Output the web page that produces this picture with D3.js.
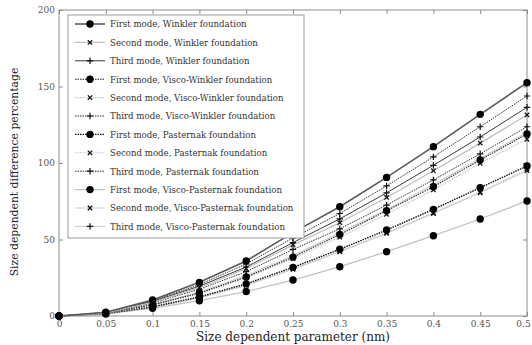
<!DOCTYPE html>
<html>
<head>
<meta charset="utf-8">
<script src="https://cdn.jsdelivr.net/npm/d3@7"></script>
<style>
  body { margin: 0; background: #fff; }
</style>
</head>
<body>
<div id="chart"></div>
<script>
// size dependent parameter (nm)
const xValues = [0, 0.05, 0.1, 0.15, 0.2, 0.25, 0.3, 0.35, 0.4, 0.45, 0.5];
const xTicks = [0, 0.05, 0.1, 0.15, 0.2, 0.25, 0.3, 0.35, 0.4, 0.45, 0.5];
const yTicks = [0, 50, 100, 150, 200];

const seriesNames = [
  'First mode, Winkler foundation',
  'Second mode, Winkler foundation',
  'Third mode, Winkler foundation',
  'First mode, Visco-Winkler foundation',
  'Second mode, Visco-Winkler foundation',
  'Third mode, Visco-Winkler foundation',
  'First mode, Pasternak foundation',
  'Second mode, Pasternak foundation',
  'Third mode, Pasternak foundation',
  'First mode, Visco-Pasternak foundation',
  'Second mode, Visco-Pasternak foundation',
  'Third mode, Visco-Pasternak foundation'
];

const firstWinkler = [0, 2.5, 10.5, 22, 36, 54.5, 71.4, 90.6, 110.7, 131.8, 152.5];
const secondWinkler = [0, 2.1, 9, 18.5, 31, 46.5, 61, 77.5, 95, 113, 131.4];
const thirdWinkler = [0, 2.2, 9.5, 19.5, 32, 48, 63.5, 80.5, 98.5, 117, 136.4];
const firstViscoWinkler = [0, 1.8, 7.3, 15, 25.5, 38.5, 53.3, 68.8, 84.5, 102, 119];
const secondViscoWinkler = [0, 1.7, 7, 14.5, 25, 37.5, 51.5, 66.5, 82.4, 99.8, 115.5];
const thirdViscoWinkler = [0, 2.3, 10, 20.5, 34, 51, 67, 85, 104, 123.7, 143.8];
const firstPasternak = [0, 1.5, 6, 12.5, 21, 31.8, 43.6, 56.2, 69.7, 83.9, 98];
const secondPasternak = [0, 1.4, 5.8, 12, 20.3, 30.8, 42.3, 54.5, 67.5, 81, 96];
const thirdPasternak = [0, 2, 8.5, 17.5, 29, 43.5, 57, 72.5, 89, 106, 123.7];
const firstViscoPasternak = [0, 1.5, 5, 10, 16, 23.5, 32.2, 42, 52.5, 63.4, 75.2];
const secondViscoPasternak = [0, 1.4, 5.6, 11.8, 20, 30.5, 42, 54, 67, 80.5, 95];
const thirdViscoPasternak = [0, 1.9, 7.6, 15.5, 26.5, 39.5, 54.5, 69.5, 86, 103, 120];

const seriesValues = [
  firstWinkler, secondWinkler, thirdWinkler,
  firstViscoWinkler, secondViscoWinkler, thirdViscoWinkler,
  firstPasternak, secondPasternak, thirdPasternak,
  firstViscoPasternak, secondViscoPasternak, thirdViscoPasternak
];

// line look per series: colour, width, dash, marker
const styles = [
  { color: '#5a5a5a', width: 1.6, dash: null, marker: 'circle' },
  { color: '#bdbdbd', width: 1.2, dash: null, marker: 'x' },
  { color: '#222', width: 0.9, dash: null, marker: 'plus' },
  { color: '#222', width: 1.1, dash: '1.5,1', marker: 'circle' },
  { color: '#c4c4c4', width: 1.1, dash: '1.5,1', marker: 'x' },
  { color: '#333', width: 1, dash: '1.5,1', marker: 'plus' },
  { color: '#111', width: 1.4, dash: '1.5,1', marker: 'circle' },
  { color: '#c8c8c8', width: 1.1, dash: '1.5,1', marker: 'x' },
  { color: '#333', width: 1, dash: '1.5,1', marker: 'plus' },
  { color: '#c2c2c2', width: 1.3, dash: null, marker: 'circle' },
  { color: '#d0d0d0', width: 1.1, dash: null, marker: 'x' },
  { color: '#cccccc', width: 1.1, dash: null, marker: 'plus' }
];

const serif = '"DejaVu Serif", "Liberation Serif", serif';

const W = 532, H = 345;
const margin = { top: 10, right: 5, bottom: 29, left: 59 };
const width = W - margin.left - margin.right;
const height = H - margin.top - margin.bottom;

const svg = d3.select('#chart')
  .append('svg')
  .attr('width', W)
  .attr('height', H);

const g = svg.append('g')
  .attr('transform', 'translate(' + margin.left + ',' + margin.top + ')');

const x = d3.scaleLinear().domain([0, 0.5]).range([0, width]);
const y = d3.scaleLinear().domain([0, 200]).range([height, 0]);

const fmt = d => String(+d.toFixed(2));

// axes with inward ticks, box around plot
const axisColor = '#8c8c8c';
function styleAxis(sel) {
  sel.attr('font-family', serif).attr('font-size', 9);
  sel.select('.domain').remove();
  sel.selectAll('line').attr('stroke', axisColor);
  sel.selectAll('text')
    .attr('fill', '#555')
    .attr('font-family', serif)
    .attr('font-size', 9);
}

const xAxis = g.append('g')
  .attr('transform', 'translate(0,' + height + ')')
  .call(d3.axisBottom(x).tickValues(xTicks).tickFormat(fmt).tickSizeInner(-4).tickSizeOuter(0).tickPadding(5))
  .call(styleAxis);
// last label sits at the right edge, pull it in a little
xAxis.selectAll('text').filter(d => d === 0.5).attr('dx', -4);

g.append('g')
  .call(d3.axisTop(x).tickValues(xTicks).tickFormat('').tickSizeInner(-4).tickSizeOuter(0))
  .call(styleAxis);

g.append('g')
  .call(d3.axisLeft(y).tickValues(yTicks).tickSizeInner(-4).tickSizeOuter(0).tickPadding(4))
  .call(styleAxis);

g.append('g')
  .attr('transform', 'translate(' + width + ',0)')
  .call(d3.axisRight(y).tickValues(yTicks).tickFormat('').tickSizeInner(-4).tickSizeOuter(0))
  .call(styleAxis);

g.append('rect')
  .attr('width', width)
  .attr('height', height)
  .attr('fill', 'none')
  .attr('stroke', axisColor)
  .attr('stroke-width', 1);

function drawMarker(sel, type) {
  if (type === 'circle') {
    sel.append('circle').attr('r', 3.7).attr('fill', '#000');
  } else if (type === 'x') {
    sel.append('path').attr('d', 'M-2.2,-2.2L2.2,2.2M-2.2,2.2L2.2,-2.2')
      .attr('stroke', '#111').attr('stroke-width', 1.3).attr('fill', 'none');
  } else {
    sel.append('path').attr('d', 'M-3.2,0L3.2,0M0,-3.2L0,3.2')
      .attr('stroke', '#111').attr('stroke-width', 1.2).attr('fill', 'none');
  }
}

const line = d3.line()
  .x((d, i) => x(xValues[i]))
  .y(d => y(d));

// draw from back to front so the top curve reads on top
const order = [11, 10, 9, 8, 7, 6, 5, 4, 3, 2, 1, 0];
order.forEach(k => {
  const st = styles[k];
  const s = g.append('g');
  s.append('path')
    .datum(seriesValues[k])
    .attr('d', line)
    .attr('fill', 'none')
    .attr('stroke', st.color)
    .attr('stroke-width', st.width)
    .attr('stroke-dasharray', st.dash);
  s.selectAll('g.m')
    .data(seriesValues[k])
    .enter()
    .append('g')
    .attr('class', 'm')
    .attr('transform', (d, i) => 'translate(' + x(xValues[i]) + ',' + y(d) + ')')
    .each(function () { drawMarker(d3.select(this), st.marker); });
});

// legend
const legend = svg.append('g').attr('transform', 'translate(68,15)');
legend.append('rect')
  .attr('width', 236)
  .attr('height', 223)
  .attr('fill', '#fff')
  .attr('stroke', '#9a9a9a')
  .attr('stroke-width', 1);

seriesNames.forEach((name, k) => {
  const st = styles[k];
  const row = legend.append('g').attr('transform', 'translate(0,' + (9 + k * 18.4) + ')');
  row.append('line')
    .attr('x1', 7).attr('x2', 37)
    .attr('stroke', st.color)
    .attr('stroke-width', st.width)
    .attr('stroke-dasharray', st.dash);
  drawMarker(row.append('g').attr('transform', 'translate(22,0)'), st.marker);
  row.append('text')
    .attr('x', 42)
    .attr('y', 3.3)
    .attr('fill', '#333')
    .attr('font-family', serif)
    .attr('font-size', 8.6)
    .text(name);
});

// axis titles
svg.append('text')
  .attr('x', 293)
  .attr('y', 341)
  .attr('text-anchor', 'middle')
  .attr('fill', '#222')
  .attr('font-family', serif)
  .attr('font-size', 12)
  .text('Size dependent parameter (nm)');

svg.append('text')
  .attr('transform', 'translate(18,172) rotate(-90)')
  .attr('text-anchor', 'middle')
  .attr('fill', '#222')
  .attr('font-family', serif)
  .attr('font-size', 10.8)
  .text('Size dependent difference percentage');
</script>
</body>
</html>
